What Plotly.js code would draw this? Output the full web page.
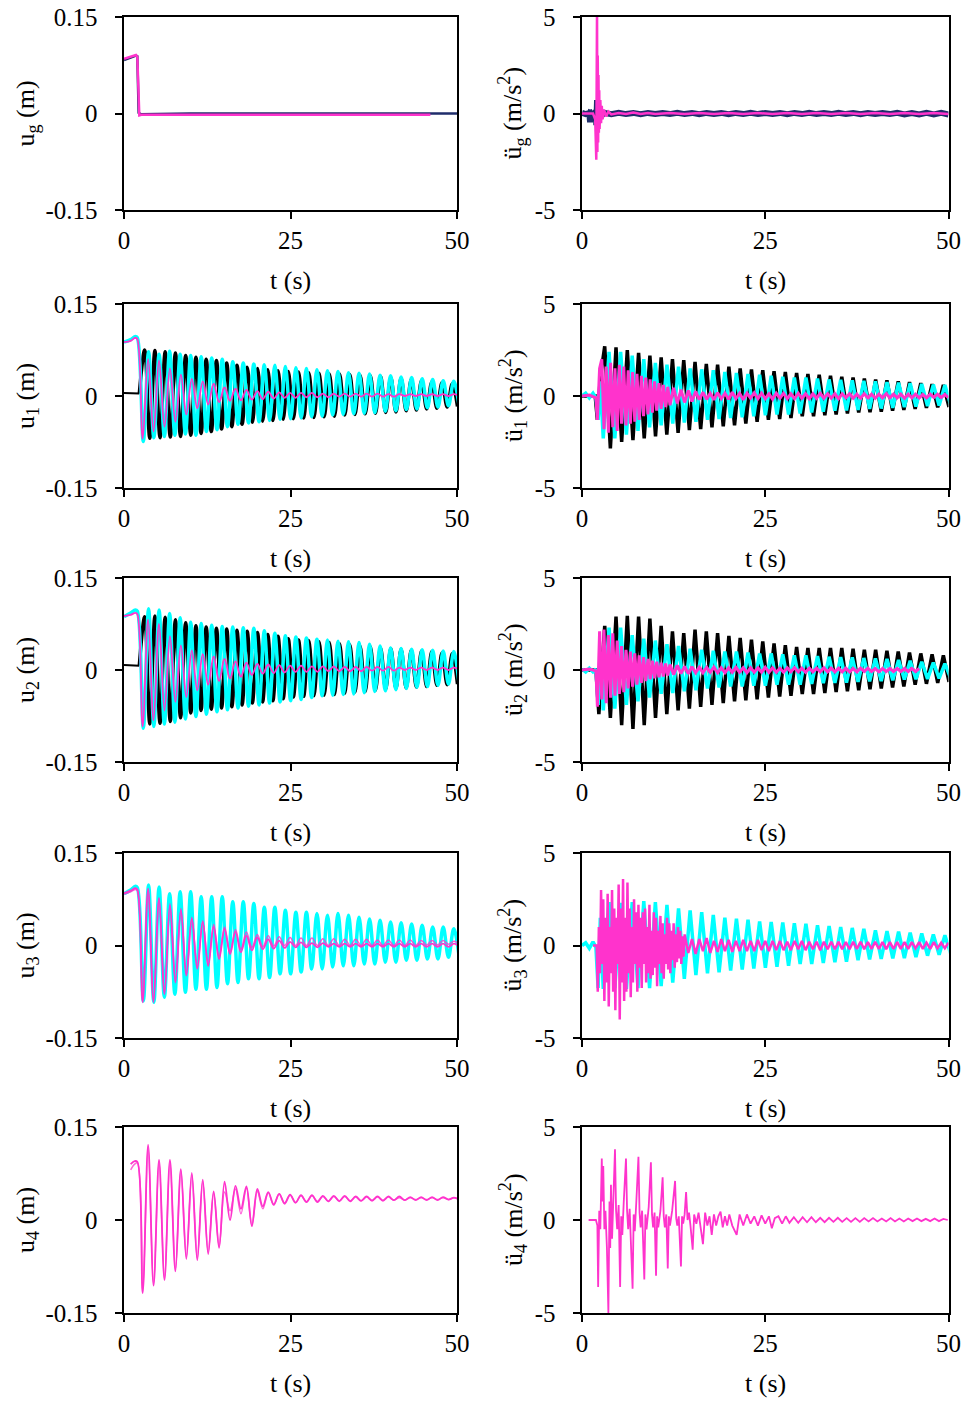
<!DOCTYPE html>
<html><head><meta charset="utf-8">
<script src="https://cdn.plot.ly/plotly-3.0.1.min.js"></script>
<style>html,body{margin:0;padding:0;background:#fff;}#chart{width:968px;height:1401px;}</style>
</head><body><div id="chart"></div>
<script>
// ---------- DATA ----------
const xTicks = [0, 25, 50];
const dispTickVals = [-0.15, 0, 0.15];
const dispTickText = ["-0.15", "0", "0.15"];
const accTickVals = [-5, 0, 5];
const accTickText = ["-5", "0", "5"];
const leftTitles = ["u<sub>g</sub> (m)", "u<sub>1</sub> (m)", "u<sub>2</sub> (m)", "u<sub>3</sub> (m)", "u<sub>4</sub> (m)"];
const rightTitles = ["ü<sub>g</sub> (m/s<sup>2</sup>)", "ü<sub>1</sub> (m/s<sup>2</sup>)", "ü<sub>2</sub> (m/s<sup>2</sup>)", "ü<sub>3</sub> (m/s<sup>2</sup>)", "ü<sub>4</sub> (m/s<sup>2</sup>)"];
const xTitle = "t (s)";

// extrema times (s)
const tCyan = [2.90,3.69,4.48,5.27,6.06,6.85,7.64,8.43,9.22,10.01,10.80,11.59,12.38,13.17,13.96,14.75,15.54,16.33,17.12,17.91,18.70,19.49,20.28,21.07,21.86,22.65,23.44,24.23,25.02,25.81,26.60,27.39,28.18,28.97,29.76,30.55,31.34,32.13,32.92,33.71,34.50,35.29,36.08,36.87,37.66,38.45,39.24,40.03,40.82,41.61,42.40,43.19,43.98,44.77,45.56,46.35,47.14,47.93,48.72,49.51,50.30];
const tBlack = [3.10,3.87,4.64,5.41,6.18,6.95,7.72,8.49,9.26,10.03,10.80,11.57,12.34,13.11,13.88,14.65,15.42,16.19,16.96,17.73,18.50,19.27,20.04,20.81,21.58,22.35,23.12,23.89,24.66,25.43,26.20,26.97,27.74,28.51,29.28,30.05,30.82,31.59,32.36,33.13,33.90,34.67,35.44,36.21,36.98,37.75,38.52,39.29,40.06,40.83,41.60,42.37,43.14,43.91,44.68,45.45,46.22,46.99,47.76,48.53,49.30,50.07];
const tMag = [2.80,3.62,4.44,5.26,6.08,6.90,7.72,8.54,9.36,10.18,11.00,11.82,12.64,13.46,14.28,15.10,15.92,16.74,17.56,18.38,19.20,20.02,20.84,21.66,22.48,23.30,24.12,24.94,25.76,26.58,27.40,28.22,29.04,29.86,30.68,31.50,32.32,33.14,33.96,34.78,35.60,36.42,37.24,38.06,38.88,39.70,40.52,41.34,42.16,42.98,43.80,44.62,45.44,46.26,47.08,47.90,48.72,49.54,50.36];

// ground (row 1)
const ugNavyT = [0, 1.0, 1.8, 2.0, 2.2, 2.5, 10, 20, 30, 40, 50];
const ugNavy = [0.083, 0.087, 0.090, 0.089, 0.001, -0.001, 0, 0, 0, 0, 0];
const ugMagT = [0, 1.0, 1.8, 2.0, 2.3, 2.6, 10, 20, 30, 40, 46];
const ugMag = [0.085, 0.088, 0.091, 0.088, -0.003, -0.002, -0.002, -0.002, -0.002, -0.002, -0.002];
const aGNavyT = [0,0.5,1.0,1.1,1.2,1.6,1.9,1.95,2.05,2.15,2.3,2.5,3,4,5,6,7,8,9,10,11,12,13,14,15,16,17,18,19,20,21,22,23,24,25,26,27,28,29,30,31,32,33,34,35,36,37,38,39,40,41,42,43,44,45,46,47,48,49,50];
const aGNavy = [0.03,-0.03,0.03,-0.45,0.03,-0.03,0.1,-0.6,0.7,-0.5,0.3,-0.2,0.04,
  -0.03,0.04,-0.03,0.03,-0.04,0.03,-0.03,0.03,-0.03,0.04,-0.03,0.03,-0.04,0.03,-0.03,0.03,-0.04,0.03,-0.03,0.04,
  -0.03,0.03,-0.03,0.03,-0.04,0.03,-0.03,0.04,-0.03,0.03,-0.03,0.04,-0.03,0.03,-0.04,0.03,-0.03,0.03,-0.03,0.04,
  -0.05,0.02,-0.05,0.03,-0.05,0.03,-0.05];
const aGMagT = [0,1.5,1.8,1.9,1.95,2.0,2.05,2.1,2.15,2.2,2.25,2.3,2.35,2.4,2.5,2.6,2.7,2.8,3.0,3.3,3.6,4.0,5,6,7,8,9,10,12,14,16,18,20,22,24,26,28,30,32,34,36,38,40,42,44,46,48,50];
const aGMag = [0,0,-0.3,-1.2,-2.4,1.5,5.5,-2.0,3.0,-1.5,2.0,-1.0,1.2,-0.8,0.7,-0.5,0.4,-0.3,0.2,-0.15,0.1,-0.05,
  0.03,-0.03,0.05,-0.03,0.03,-0.03,0.03,-0.03,0.03,-0.03,0.03,-0.03,0.03,-0.03,0.03,-0.03,0.03,-0.03,0.03,-0.03,0.03,-0.03,0.03,-0.03,0.03,-0.02];

// displacement pre-release segments
const preT = [0, 1.0, 1.7, 2.0];
const preBlackT = [0, 1.0, 2.0, 2.3];
const u1CyanPre = [0.088, 0.092, 0.097, 0.095], u1MagPre = [0.088, 0.090, 0.095, 0.093], u1BlackPre = [0.005, 0.005, 0.005, 0.004];
const u2CyanPre = [0.087, 0.093, 0.098, 0.096], u2MagPre = [0.088, 0.090, 0.093, 0.091], u2BlackPre = [0.008, 0.008, 0.008, 0.007];
const u3CyanPre = [0.084, 0.090, 0.096, 0.094], u3MagAPre = [0.085, 0.089, 0.093, 0.091], u3MagBPre = [0.083, 0.087, 0.091, 0.089];
const u4PreT = [1.0, 1.6, 2.0];
const u4MagAPre = [0.090, 0.095, 0.094], u4MagBPre = [0.081, 0.090, 0.092];

// floor 1 displacement
const u1Cyan = [-.074,.072,-.068,.068,-.066,.073,-.064,.068,-.062,.066,-.064,.064,-.058,.062,-.055,.060,-.050,.056,-.046,.054,-.044,.052,-.042,.051,-.040,.050,-.038,.048,-.037,.046,-.036,.045,-.034,.043,-.033,.041,-.031,.040,-.030,.038,-.029,.037,-.028,.036,-.027,.034,-.025,.033,-.024,.031,-.022,.030,-.021,.028,-.019,.027,-.018,.025,-.016,.024,-.015];
const u1Black = [.075,-.069,.074,-.068,.072,-.067,.070,-.066,.066,-.064,.063,-.061,.060,-.058,.058,-.054,.054,-.050,.050,-.046,.047,-.043,.045,-.041,.043,-.040,.041,-.038,.040,-.037,.039,-.036,.038,-.035,.037,-.034,.036,-.033,.036,-.031,.035,-.030,.034,-.029,.033,-.028,.032,-.027,.030,-.026,.029,-.024,.027,-.023,.025,-.021,.023,-.020,.022,-.018,.020,-.017];
const u1Mag = [-.070,.060,-.058,.058,-.050,.045,-.042,.035,-.030,.028,-.020,.024,-.014,.020,-.010,.014,-.008,.012,-.007,.010,-.006,.008,-.005,.007,-.004,.006,-.003,.005,-.003,.005,-.002,.005,-.002,.004,-.002,.004,-.001,.004,-.001,.004,-.001,.004,-.001,.004,-.001,.003,-.001,.003,0,.003,0,.003,0,.003,0,.003,0,.003,0];
// floor 2 displacement
const u2Cyan = [-.095,.100,-.092,.098,-.088,.092,-.085,.085,-.080,.078,-.076,.076,-.072,.073,-.068,.071,-.065,.070,-.062,.069,-.059,.068,-.057,.064,-.054,.060,-.052,.056,-.050,.054,-.048,.052,-.045,.050,-.042,.049,-.041,.047,-.040,.046,-.039,.045,-.037,.042,-.035,.039,-.034,.036,-.032,.035,-.030,.034,-.028,.033,-.027,.032,-.025,.031,-.023,.030,-.022];
const u2Black = [.087,-.088,.088,-.087,.086,-.084,.082,-.078,.077,-.070,.072,-.066,.070,-.064,.068,-.062,.067,-.060,.065,-.057,.063,-.054,.061,-.052,.058,-.050,.055,-.047,.051,-.044,.049,-.043,.048,-.042,.046,-.041,.045,-.040,.043,-.038,.041,-.036,.039,-.035,.038,-.033,.036,-.031,.035,-.030,.034,-.029,.032,-.028,.031,-.027,.030,-.025,.028,-.024,.027,-.023];
const u2Mag = [-.092,.082,-.082,.075,-.066,.055,-.052,.040,-.044,.032,-.033,.026,-.024,.022,-.018,.018,-.014,.014,-.011,.012,-.008,.010,-.006,.009,-.005,.008,-.004,.007,-.003,.007,-.003,.006,-.003,.006,-.002,.006,-.002,.005,-.002,.005,-.002,.005,-.001,.005,-.001,.005,-.001,.004,0,.004,0,.004,0,.004,0,.004,0,.004,0];
// floor 3 displacement
const u3Cyan = [-.090,.098,-.092,.095,-.084,.084,-.079,.087,-.076,.087,-.071,.079,-.071,.079,-.068,.079,-.062,.071,-.060,.071,-.054,.068,-.054,.062,-.052,.062,-.046,.057,-.046,.054,-.043,.054,-.038,.052,-.038,.049,-.035,.052,-.033,.049,-.033,.046,-.030,.043,-.030,.041,-.027,.038,-.027,.037,-.024,.035,-.024,.033,-.022,.030,-.022,.030,-.019,.027,-.016];
const u3MagA = [-.092,.092,-.092,.076,-.079,.065,-.060,.057,-.049,.043,-.038,.038,-.033,.030,-.022,.027,-.014,.022,-.011,.016,-.008,.013,-.006,.010,-.005,.008,-.004,.006,-.003,.005,-.003,.004,-.003,.004,-.002,.003,-.002,.003,-.002,.003,-.002,.003,-.002,.003,-.002,.003,-.002,.003,-.002,.003,-.002,.003,-.002,.003,-.002,.003,-.002,.003,-.002];
const u3MagB = [-.090,.090,-.090,.078,-.076,.068,-.058,.060,-.046,.046,-.035,.040,-.030,.034,-.018,.030,-.010,.026,-.006,.022,-.003,.018,-.002,.016,-.001,.014,0,.013,0,.012,0,.012,0,.011,0,.011,0,.010,0,.010,0,.010,0,.009,0,.009,0,.009,0,.009,0,.008,.001,.008,.001,.008,.002,.007,.002];
// floor 4 displacement
const u4MagA = [-.118,.121,-.106,.097,-.097,.097,-.083,.082,-.063,.076,-.065,.065,-.055,.046,-.045,.062,.000,.055,.018,.054,-.010,.050,.022,.045,.025,.042,.027,.041,.028,.040,.029,.040,.029,.039,.030,.039,.030,.039,.030,.038,.031,.038,.031,.038,.031,.038,.032,.038,.032,.037,.032,.037,.032,.037,.032,.037,.033,.036,.033];
const u4MagB = [-.116,.118,-.104,.095,-.095,.094,-.080,.080,-.060,.073,-.062,.062,-.052,.044,-.042,.045,.015,.050,.010,.052,-.008,.046,.018,.044,.024,.042,.026,.040,.028,.039,.029,.039,.030,.038,.030,.038,.031,.038,.031,.037,.031,.037,.032,.037,.032,.037,.032,.036,.032,.036,.033,.036,.033,.036,.033,.036,.033,.036,.033];

// acceleration pre-release segments
const aPreT = [0, 0.5, 1.0, 1.5, 1.9, 2.2, 2.5];
const a1CyanPre = [0, 0.15, -0.1, 0.15, -0.1, -1.3, 0.8];
const a2CyanPre = [0.05, -0.1, 0.1, -0.1, 0.05, -1.9, 0.8];
const a3CyanPre = [0, 0.15, -0.15, 0.2, -0.1, -2.3, 1.5];
const a1BlackPreT = [0, 1.8, 2.1, 2.5];
const a1BlackPre = [0, 0, -1.3, 1.0];
const a2BlackPreT = [0, 1.9, 2.3];
const a2BlackPre = [0, 0, -2.4];

const a1Black = [2.7,-2.85,2.65,-2.5,2.5,-2.4,2.35,-2.3,2.2,-2.2,2.1,-2.1,2.0,-2.0,1.95,-1.85,1.85,-1.8,1.75,-1.7,1.7,-1.65,1.6,-1.6,1.5,-1.5,1.45,-1.4,1.4,-1.3,1.35,-1.25,1.3,-1.2,1.25,-1.1,1.2,-1.1,1.15,-1.05,1.1,-1.0,1.05,-0.95,1.0,-0.9,0.95,-0.88,0.9,-0.85,0.85,-0.8,0.8,-0.75,0.75,-0.7,0.7,-0.65,0.65,-0.62,0.6,-0.6];
const a1Cyan = [-2.3,2.4,-2.3,2.4,-2.1,2.2,-1.9,2.0,-1.7,1.8,-1.6,1.7,-1.5,1.6,-1.45,1.5,-1.4,1.45,-1.3,1.4,-1.25,1.3,-1.2,1.25,-1.15,1.2,-1.1,1.15,-1.05,1.1,-1.0,1.05,-1.0,1.0,-0.95,1.0,-0.9,0.95,-0.85,0.9,-0.8,0.88,-0.78,0.85,-0.75,0.82,-0.7,0.8,-0.68,0.75,-0.65,0.72,-0.6,0.7,-0.58,0.65,-0.55,0.62,-0.52,0.6,-0.5];
const a2Black = [2.4,-2.6,2.9,-3.0,2.95,-3.2,2.9,-3.0,2.8,-2.6,2.4,-2.4,2.1,-2.2,2.0,-2.1,2.2,-2.0,2.1,-1.9,2.0,-1.8,1.85,-1.7,1.75,-1.65,1.65,-1.6,1.55,-1.5,1.45,-1.45,1.35,-1.4,1.25,-1.3,1.2,-1.3,1.2,-1.25,1.2,-1.2,1.2,-1.15,1.15,-1.1,1.1,-1.05,1.1,-1.0,1.05,-0.95,1.0,-0.9,0.95,-0.8,0.9,-0.75,0.85,-0.7,0.8,-0.65];
const a2Cyan = [-2.2,2.3,-2.1,2.3,-1.9,1.9,-1.7,1.7,-1.5,1.6,-1.3,1.4,-1.25,1.3,-1.15,1.15,-1.1,1.1,-1.0,1.05,-0.95,1.0,-0.9,1.0,-0.9,0.95,-0.85,0.9,-0.85,0.9,-0.8,0.85,-0.8,0.8,-0.8,0.8,-0.75,0.75,-0.72,0.72,-0.7,0.7,-0.68,0.68,-0.65,0.65,-0.62,0.63,-0.6,0.6,-0.56,0.55,-0.52,0.5,-0.5,0.45,-0.48,0.4,-0.46,0.35,-0.45];
const a3Cyan = [-2.35,2.35,-2.3,2.3,-2.35,2.35,-2.3,2.4,-2.3,2.35,-2.2,2.2,-2.0,2.0,-1.8,1.9,-1.6,1.8,-1.5,1.65,-1.45,1.5,-1.35,1.45,-1.3,1.4,-1.25,1.3,-1.2,1.27,-1.15,1.25,-1.1,1.2,-1.0,1.18,-1.0,1.1,-0.95,1.05,-0.9,1.0,-0.88,0.95,-0.8,0.9,-0.75,0.82,-0.72,0.78,-0.7,0.75,-0.68,0.7,-0.63,0.65,-0.55,0.6,-0.5,0.55,-0.45];

// magenta accelerations, floors 1-2
const aMagT = [0,1.0,1.9,2.1,2.4,2.7,3.0,3.3,3.6,3.9,4.2,4.5,4.8,5.1,5.4,5.7,6.0,6.3,6.6,6.9,7.2,7.5,7.8,8.1,8.4,8.7,9.0,9.3,9.6,9.9,10.2,10.5,10.8,11.1,11.4,11.7,12.0,12.5,13.0,13.5,14.0,14.5,15.0,15.5,16.0];
const aMagTailT = [16.5,17,17.5,18,18.5,19,19.5,20,20.5,21,21.5,22,22.5,23,23.5,24,24.5,25,25.5,26,26.5,27,27.5,28,28.5,29,29.5,30,30.5,31,31.5,32,32.5,33,33.5,34,34.5,35,35.5,36,36.5,37,37.5,38,38.5,39,39.5,40,40.5,41,41.5,42,42.5,43,43.5,44,44.5,45,45.5,46,46.5,47,47.5,48,48.5,49,49.5,50];
const a1Mag = [0,.05,-.1,-1.3,1.5,2.0,-1.8,1.6,-2.0,1.8,-1.7,1.5,-1.9,1.7,-1.5,1.6,-1.6,1.4,-1.5,1.3,-1.4,1.2,-1.3,1.1,-1.1,1.0,-1.0,.9,-.9,.8,-.8,.7,-.7,.6,-.6,.5,-.5,.45,-.4,.35,-.35,.3,-.3,.25,-.2];
const a1MagTail = [.2,-.18,.15,-.2,.18,-.15,.15,-.18,.2,-.15,.15,-.2,.15,-.12,.18,-.15,.15,-.15,.12,-.18,.15,-.12,.15,-.15,.12,-.15,.15,-.12,.12,-.15,.12,-.12,.15,-.12,.12,-.12,.12,-.15,.12,-.1,.12,-.12,.1,-.12,.12,-.1,.1,-.12,.1,-.1,.12,-.1,.1,-.1,.1,-.12,.1,-.1,.1,-.1,.08,-.1,.1,-.08,.1,-.08,.08,-.08];
const a2Mag = [0,.05,-.05,-2.0,2.1,-1.6,2.2,-1.8,1.9,-1.5,2.0,-1.4,1.6,-1.3,1.3,-1.2,1.1,-1.0,1.0,-.9,.9,-.8,.8,-.7,.7,-.6,.6,-.5,.5,-.45,.45,-.4,.4,-.35,.35,-.3,.3,-.25,.25,-.2,.2,-.2,.18,-.15,.15];
const a2MagTail = [-.15,.15,-.12,.15,-.15,.12,-.15,.12,-.12,.15,-.12,.12,-.15,.12,-.12,.12,-.12,.15,-.12,.12,-.12,.1,-.12,.12,-.1,.12,-.1,.1,-.12,.1,-.1,.1,-.1,.12,-.1,.1,-.1,.1,-.1,.1,-.1,.08,-.1,.1,-.08,.1,-.08,.08,-.1,.08,-.08,.08,-.08,.08,-.08,.08,-.08,.08,-.08,.08,null,null,null,null,null,null,null,null];

// magenta acceleration, floor 3
const a3MagT = [1.5,1.9,2.00,2.15,2.30,2.45,2.60,2.75,2.90,3.05,3.20,3.35,3.50,3.65,3.80,3.95,4.10,4.25,4.40,4.55,4.70,4.85,5.00,5.15,5.30,5.45,5.60,5.75,5.90,6.05,6.20,6.35,6.50,6.65,6.80,6.95,7.10,7.25,7.40,7.55,7.70,7.85,8.00,8.15,8.30,8.45,8.60,8.75,8.90,9.05,9.20,9.35,9.50,9.65,9.80,9.95,10.10,10.25,10.40,10.55,10.70,10.85,11.00,11.15,11.30,11.45,11.60,11.75,11.90,12.05,12.20,12.35,12.50,12.65,12.80,12.95,13.10,13.25,13.40,13.55,13.70,13.85,14.00];
const a3Mag = [0,0,0,-2.5,1.0,-1.5,3.0,-1.0,2.5,-3.0,1.5,-2.0,2.8,-3.3,1.0,-1.5,3.0,-2.5,2.0,-3.5,1.5,-1.0,3.3,-4.0,2.0,-2.0,3.6,-3.0,1.5,-2.5,3.4,-1.5,2.0,-2.8,1.0,-2.0,2.5,-1.0,1.8,-2.5,2.2,-1.2,1.5,-2.3,1.8,-1.0,2.0,-2.0,1.0,-1.5,2.2,-1.8,.8,-1.6,1.8,-1.2,1.5,-2.2,.8,-1.0,1.6,-1.5,1.2,-1.8,.6,-1.0,1.5,-1.3,1.2,-1.5,.8,-.8,1.2,-1.2,.6,-.9,1.0,-.7,.8,-1.0,.5,-.6,.6];
const a3MagTailT = [14.5,15,15.5,16,16.5,17,17.5,18,18.5,19,19.5,20,20.5,21,21.5,22,22.5,23,23.5,24,24.5,25,25.5,26,26.5,27,27.5,28,28.5,29,29.5,30,30.5,31,31.5,32,32.5,33,33.5,34,34.5,35,35.5,36,36.5,37,37.5,38,38.5,39,39.5,40,40.5,41,41.5,42,42.5,43,43.5,44,44.5,45,45.5,46,46.5,47,47.5,48,48.5,49,49.5,50];
const a3MagTail = [-.4,.35,-.45,.35,-.3,.4,-.4,.25,-.35,.35,-.3,.3,-.35,.25,-.3,.3,-.3,.25,-.3,.3,-.25,.25,-.3,.25,-.25,.25,-.25,.2,-.25,.25,-.2,.25,-.25,.2,-.2,.2,-.25,.2,-.2,.2,-.2,.2,-.2,.18,-.2,.2,-.18,.2,-.2,.18,-.18,.2,-.18,.18,-.2,.18,-.18,.18,-.18,.18,-.18,.18,-.15,.18,-.18,.15,-.18,.18,-.15,.15,-.15,.15];

// magenta acceleration, floor 4
const a4MagT = [0.9,1.9,2.1,2.2,2.35,2.5,2.7,2.8,2.9,3.05,3.2,3.4,3.6,3.75,3.85,3.95,4.1,4.3,4.5,4.65,4.8,5.0,5.2,5.35,5.5,5.7,6.0,6.15,6.3,6.5,6.9,7.05,7.2,7.4,7.7,7.85,8.0,8.2,8.5,8.65,8.8,9.1,9.4,9.55,9.7,9.9,10.1,10.25,10.4,10.7,11.0,11.15,11.3,11.5,11.7,11.85,12.0,12.3,12.7,12.85,13.0,13.2,13.5,13.65,13.8,14.0,14.2,14.4,14.6,14.8,15.1,15.3,15.6,15.9,16.2,16.5,16.8,17.1,17.4,17.7,18.0,18.3,18.6,18.9,19.2,19.5,19.8,20.1,20.5,21.1,21.5,22.0,22.5,23.0,23.5,24.0,24.5,25.0,25.5,25.9,26.3,26.8,27.3,27.8,28.3,28.9,29.5,30.1,30.7,31.3,31.9,32.5,33.1,33.7,34.3,34.9,35.5,36.1,36.7,37.3,37.9,38.5,39.1,39.7,40.3,40.9,41.5,42.1,42.7,43.3,43.9,44.5,45.1,45.7,46.3,46.9,47.5,48.1,48.7,49.3,49.9];
const a4Mag = [0,0,-.3,-3.6,.5,-.5,3.3,1.0,2.9,-.5,.5,-1.5,-5.0,1.0,-1.5,1.9,-1.0,1.0,3.8,.5,-.5,.8,-3.6,.2,-.8,1.0,3.3,.5,-.5,.6,-3.7,.3,-.6,.9,3.4,.4,-.4,.5,-3.2,.3,-.5,.7,3.1,.3,-.4,.4,-3.0,.2,-.4,.5,2.3,.2,-.4,.3,-2.6,.2,-.3,.5,2.1,.1,-.3,.2,-2.5,.2,-.2,.3,1.5,0,.4,-.3,-1.6,.3,-.2,.4,-.4,-1.3,.4,-.3,.2,-.8,.3,-.3,.2,.45,-.4,.2,-.3,.3,-.3,-.8,.3,-.3,.3,-.2,.2,-.3,.25,-.2,.2,-.45,.1,.2,-.2,.2,-.15,.15,-.15,.15,-.12,.15,-.12,.12,-.12,.12,-.1,.12,-.1,.1,-.1,.1,-.1,.1,-.08,.1,-.08,.08,-.08,.1,-.08,.08,-.08,.08,-.06,.08,-.06,.06,-.06,.08,-.06,.06,0];

// ---------- STYLE / LAYOUT ----------
const W = 968, H = 1401;
const colPx = [[124, 457], [582, 948.5]];
const rowPx = [[17, 210], [304, 488], [578, 762], [853, 1038], [1127, 1313]];
const BLACK = '#000000', CYAN = '#00FFFF', MAG = '#FF33CC', NAVY = '#1F2D6B';
const FONT = 'Liberation Serif, Times New Roman, serif';
const PAD = '\u00a0\u00a0'; // keeps y tick labels clear of the axis, like the reference

const traces = [];
function ax(i) { return i === 1 ? '' : String(i); }
function add(idx, t, y, color, width, shape, opacity) {
  traces.push({type: 'scatter', mode: 'lines', x: t, y: y,
    xaxis: 'x' + ax(idx), yaxis: 'y' + ax(idx),
    line: {color: color, width: width, shape: shape || 'linear', smoothing: 1},
    opacity: opacity == null ? 1 : opacity, connectgaps: false,
    hoverinfo: 'skip', showlegend: false});
}
const cat = (a, b) => a.concat(b);
const lastOf = a => a.slice(-1);

// row 1
add(1, ugNavyT, ugNavy, NAVY, 2.5);
add(1, ugMagT, ugMag, MAG, 2.5);
add(2, aGNavyT, aGNavy, NAVY, 6);
add(2, aGMagT, aGMag, MAG, 2.5);
// row 2
add(3, preBlackT, u1BlackPre, BLACK, 2);
add(3, cat(lastOf(preBlackT), tBlack), cat(lastOf(u1BlackPre), u1Black), BLACK, 3.5, 'spline');
add(3, cat(preT, tCyan), cat(u1CyanPre, u1Cyan), CYAN, 3.5, 'spline');
add(3, cat(preT, tMag), cat(u1MagPre, u1Mag), MAG, 1.8, 'spline');
add(4, cat(a1BlackPreT, tBlack), cat(a1BlackPre, a1Black), BLACK, 3.5);
add(4, cat(aPreT, tCyan), cat(a1CyanPre, a1Cyan), CYAN, 3.5);
add(4, cat(aMagT, aMagTailT), cat(a1Mag, a1MagTail), MAG, 3);
// row 3
add(5, preBlackT, u2BlackPre, BLACK, 2);
add(5, cat(lastOf(preBlackT), tBlack), cat(lastOf(u2BlackPre), u2Black), BLACK, 3.5, 'spline');
add(5, cat(preT, tCyan), cat(u2CyanPre, u2Cyan), CYAN, 3.5, 'spline');
add(5, cat(preT, tMag), cat(u2MagPre, u2Mag), MAG, 1.8, 'spline');
add(6, cat(a2BlackPreT, tBlack), cat(a2BlackPre, a2Black), BLACK, 3.5);
add(6, cat(aPreT, tCyan), cat(a2CyanPre, a2Cyan), CYAN, 3.5);
add(6, cat(aMagT, aMagTailT), cat(a2Mag, a2MagTail), MAG, 3);
// row 4
add(7, cat(preT, tCyan), cat(u3CyanPre, u3Cyan), CYAN, 3.5, 'spline');
add(7, cat(preT, tMag), cat(u3MagBPre, u3MagB), MAG, 1.5, 'spline', 0.8);
add(7, cat(preT, tMag), cat(u3MagAPre, u3MagA), MAG, 1.8, 'spline');
add(8, cat(aPreT, tCyan), cat(a3CyanPre, a3Cyan), CYAN, 3.5);
add(8, cat(a3MagT, a3MagTailT), cat(a3Mag, a3MagTail), MAG, 2.5);
// row 5
add(9, cat(u4PreT, tMag), cat(u4MagBPre, u4MagB), MAG, 1.5, 'spline', 0.75);
add(9, cat(u4PreT, tMag), cat(u4MagAPre, u4MagA), MAG, 1.8, 'spline');
add(10, a4MagT, a4Mag, MAG, 1.8);

const layout = {
  width: W, height: H, margin: {l: 0, r: 0, t: 0, b: 0},
  paper_bgcolor: '#ffffff', plot_bgcolor: '#ffffff',
  showlegend: false, font: {family: FONT, size: 25, color: '#000'},
  annotations: []
};
for (let r = 0; r < 5; r++) {
  for (let c = 0; c < 2; c++) {
    const idx = r * 2 + c + 1;
    const [x0, x1] = colPx[c];
    const [y0, y1] = rowPx[r];
    const common = {showline: true, linecolor: '#000', linewidth: 2, mirror: true,
      ticks: 'outside', ticklen: 7, tickwidth: 2, tickcolor: '#000',
      showgrid: false, zeroline: false, fixedrange: true,
      tickfont: {family: FONT, size: 25, color: '#000'}};
    layout['xaxis' + ax(idx)] = Object.assign({}, common, {
      domain: [x0 / W, x1 / W], anchor: 'y' + ax(idx), range: [0, 50],
      tickmode: 'array', tickvals: xTicks, ticktext: xTicks.map(String)});
    layout['yaxis' + ax(idx)] = Object.assign({}, common, {
      domain: [1 - y1 / H, 1 - y0 / H], anchor: 'x' + ax(idx),
      range: c === 0 ? [-0.15, 0.15] : [-5, 5],
      tickmode: 'array', tickvals: c === 0 ? dispTickVals : accTickVals,
      ticktext: (c === 0 ? dispTickText : accTickText).map(s => s + PAD)});
    // axis titles as text annotations
    layout.annotations.push({xref: 'paper', yref: 'paper', showarrow: false,
      x: (c === 0 ? 27 : 513) / W, y: 1 - ((y0 + y1) / 2) / H, textangle: -90,
      xanchor: 'center', yanchor: 'middle', text: c === 0 ? leftTitles[r] : rightTitles[r],
      font: {family: FONT, size: 26, color: '#000'}});
    layout.annotations.push({xref: 'paper', yref: 'paper', showarrow: false,
      x: ((x0 + x1) / 2) / W, y: 1 - (y1 + 70) / H, xanchor: 'center', yanchor: 'middle',
      text: xTitle, font: {family: FONT, size: 26, color: '#000'}});
  }
}
Plotly.newPlot('chart', traces, layout, {staticPlot: true, displayModeBar: false});
</script></body></html>
